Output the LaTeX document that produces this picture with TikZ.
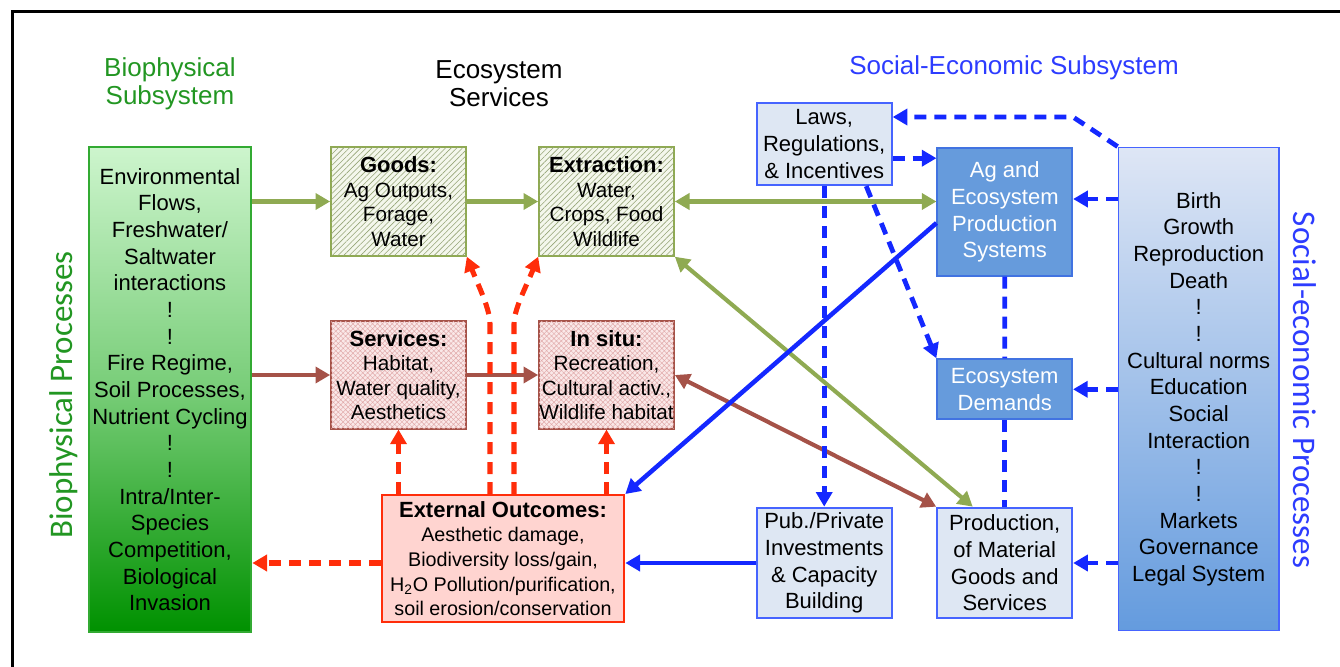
\documentclass[tikz,border=0pt]{standalone}
\usepackage{fontspec}
\setmainfont{Liberation Sans}
\newfontfamily\calfont{Carlito}
\usetikzlibrary{arrows.meta,patterns.meta,calc}

\definecolor{titlegreen}{RGB}{34,150,34}
\definecolor{titleblue}{RGB}{45,60,255}
\definecolor{bioedge}{RGB}{50,170,50}
\definecolor{biotop}{RGB}{205,245,205}
\definecolor{biomid}{RGB}{120,205,120}
\definecolor{biobot}{RGB}{0,145,0}
\definecolor{goodline}{RGB}{143,170,82}
\definecolor{goodfill}{RGB}{244,247,236}
\definecolor{goodhatch}{RGB}{150,165,120}
\definecolor{servline}{RGB}{165,82,72}
\definecolor{servfill}{RGB}{250,232,232}
\definecolor{servhatch}{RGB}{225,170,170}
\definecolor{outred}{RGB}{255,45,10}
\definecolor{outfill}{RGB}{255,212,208}
\definecolor{arrblue}{RGB}{20,40,255}
\definecolor{boxblue}{RGB}{70,100,255}
\definecolor{paleblue}{RGB}{222,231,243}
\definecolor{midblue}{RGB}{102,155,220}
\definecolor{midedge}{RGB}{65,115,225}
\definecolor{setop}{RGB}{222,230,245}
\definecolor{sebot}{RGB}{100,155,222}

\newcommand{\boxfont}{\fontsize{16.5}{20}\selectfont}
\newcommand{\hatchfont}{\fontsize{15.5}{18.4}\selectfont}
\newcommand{\extfont}{\fontsize{14.8}{18.5}\selectfont}
\newcommand{\boxhead}[1]{{\boxfont\textbf{#1}}}

\tikzset{every picture/.style={line width=0.75pt}}
\tikzset{
  >={Triangle[length=11pt,width=12pt]},
  title/.style={align=center,font=\fontsize{19.5}{21}\selectfont},
  sidetitle/.style={font=\calfont\fontsize{24.75}{28}\selectfont},
  biobox/.style={draw=bioedge,line width=1.5pt,top color=biotop,bottom color=biobot,middle color=biomid,
    minimum width=122pt,minimum height=363.75pt,align=center,inner sep=0pt,font=\boxfont},
  goodsbox/.style={draw=goodline,line width=1.5pt,fill=goodfill,
    postaction={pattern={Lines[angle=45,distance=3pt,line width=0.45pt]},pattern color=goodhatch},
    minimum width=101pt,minimum height=81.3pt,align=center,inner sep=0pt,font=\hatchfont},
  servbox/.style={draw=servline,line width=1.5pt,fill=servfill,
    postaction={pattern={Hatch[angle=45,distance=2.6pt,line width=0.35pt]},pattern color=servhatch},
    minimum width=101pt,minimum height=80.3pt,align=center,inner sep=0pt,font=\hatchfont},
  outbox/.style={draw=outred,line width=1.5pt,fill=outfill,minimum width=182pt,minimum height=95.5pt,
    align=center,inner sep=0pt,font=\extfont},
  lightbox/.style={draw=boxblue,line width=1.5pt,fill=paleblue,minimum width=101.25pt,
    align=center,inner sep=0pt,font=\boxfont},
  midbox/.style={draw=midedge,line width=1.5pt,fill=midblue,text=white,minimum width=101pt,
    align=center,inner sep=0pt,font=\boxfont},
  sebox/.style={draw=boxblue,line width=1.2pt,top color=setop,bottom color=sebot,
    minimum width=120.5pt,minimum height=362.5pt,align=center,inner sep=0pt,font=\boxfont},
  grnarr/.style={draw=goodline,line width=3.1pt},
  brnarr/.style={draw=servline,line width=3.1pt},
  bluarr/.style={draw=arrblue,line width=3.4pt},
  bludash/.style={draw=arrblue,line width=3.6pt,dash pattern=on 9pt off 6pt},
  reddash/.style={draw=outred,line width=3.8pt,dash pattern=on 9pt off 6pt}
}

\begin{document}
\begin{tikzpicture}[x=0.75pt,y=0.75pt,yscale=-1,xscale=1]
\useasboundingbox (0,0) rectangle (1340,667);

% frame
\draw[line width=2.25pt] (12,667) -- (12,12) -- (1340,12);

% headings
\node[title,text=titlegreen] (bioT) at (170,84) {Biophysical\\Subsystem};
\node[title] (esT) at (499,84) {Ecosystem\\Services};
\node[title,text=titleblue] (seT) at (1014,68) {Social-Economic Subsystem};
\node[sidetitle,text=titlegreen,rotate=90] (bioP) at (64,395) {Biophysical Processes};
\node[sidetitle,text=titleblue,rotate=-90] (seP) at (1305,390) {Social-economic Processes};

% biophysical subsystem
\node[biobox] (bio) at (170,389.5) {Environmental\\Flows,\\Freshwater/\\Saltwater\\interactions\\!\\!\\Fire Regime,\\Soil Processes,\\Nutrient Cycling\\!\\!\\Intra/Inter-\\Species\\Competition,\\Biological\\Invasion};

% ecosystem services
\node[goodsbox] (goods) at (398.5,201.5) {\boxhead{Goods:}\\Ag Outputs,\\Forage,\\Water};
\node[goodsbox] (extr) at (606.5,201.5) {\boxhead{Extraction:}\\Water,\\Crops, Food\\Wildlife};
\node[servbox] (serv) at (398.5,375) {\boxhead{Services:}\\Habitat,\\Water quality,\\Aesthetics};
\node[servbox] (insitu) at (606.5,375) {\boxhead{In situ:}\\Recreation,\\Cultural activ.,\\Wildlife habitat};
\node[outbox] (ext) at (503,558.7) {\boxhead{External Outcomes:}\\Aesthetic damage,\\Biodiversity loss/gain,\\H\textsubscript{2}O Pollution/purification,\\soil erosion/conservation};

% social-economic subsystem
\node[lightbox,minimum height=61.3pt] (laws) at (824.2,144.2) {Laws,\\Regulations,\\\& Incentives};
\node[lightbox,minimum height=83pt] (pub) at (824.2,563) {Pub./Private\\Investments\\\& Capacity\\Building};
\node[midbox,minimum height=95.5pt] (agro) at (1004.8,212) {Ag and\\Ecosystem\\Production\\Systems};
\node[midbox,minimum height=45pt] (eco) at (1004.7,389.3) {Ecosystem\\Demands};
\node[lightbox,minimum height=83pt] (prod) at (1004.7,563) {Production,\\of Material\\Goods and\\Services};
\node[sebox] (se) at (1198.7,389) {Birth\\Growth\\Reproduction\\Death\\!\\!\\Cultural norms\\Education\\Social\\Interaction\\!\\!\\Markets\\Governance\\Legal System};

% green flows
\draw[grnarr,->] (bio.east |- goods.west) -- (goods.west);
\draw[grnarr,->] (goods.east) -- (extr.west);
\draw[grnarr,<->] (extr.east) -- (extr.east -| agro.west);
\coordinate (prodG) at ($(prod.north)+(-32,0)$);
\draw[grnarr,<->] (extr.south east) -- (prodG);

% brown flows
\draw[brnarr,->] (bio.east |- serv.west) -- (serv.west);
\draw[brnarr,->] (serv.east) -- (insitu.west);
\draw[brnarr,<->] (insitu.east) -- (prod.north west);

% blue flows
\coordinate (agroL) at ($(agro.west)+(0,11)$);
\draw[bluarr,->] (agroL) -- (ext.north east);
\draw[bluarr,->] (pub.west) -- (pub.west -| ext.east);

\draw[bludash,->] (laws.south) -- (pub.north);
\coordinate (lawsB) at ($(laws.south)+(42,0)$);
\draw[bludash,->] (lawsB) -- (eco.north west);
\coordinate (lawsR) at ($(laws.east)+(0,14)$);
\draw[bludash,->] (lawsR) -- (lawsR -| agro.west);
\draw[bludash] (agro.south) -- (eco.north);
\draw[bludash] (eco.south) -- (prod.north);
\coordinate (agroR) at ($(agro.east)+(0,-13)$);
\draw[bludash,->] (agroR -| se.west) -- (agroR);
\draw[bludash,->] (eco.east -| se.west) -- (eco.east);
\draw[bludash,->] (prod.east -| se.west) -- (prod.east);
\coordinate (seBend) at (1073,117);
\draw[bludash,->] (se.north west) -- (seBend) -- (seBend -| laws.east);

% external outcomes
\draw[reddash,->] (serv.south |- ext.north) -- (serv.south);
\draw[reddash,->] (insitu.south |- ext.north) -- (insitu.south);
\coordinate (extG) at ($(ext.north)+(-13,0)$);
\coordinate (extX) at ($(ext.north)+(11,0)$);
\draw[reddash,->] (extG) -- ($(extG)+(0,-170)$) .. controls ($(extG)+(0,-185)$) and ($(goods.south east)+(12,30)$) .. (goods.south east);
\draw[reddash,->] (extX) -- ($(extX)+(0,-170)$) .. controls ($(extX)+(0,-185)$) and ($(extr.south west)+(-12,30)$) .. (extr.south west);
\draw[reddash,->] (ext.west |- pub.west) -- (bio.east |- pub.west);

\end{tikzpicture}
\end{document}
